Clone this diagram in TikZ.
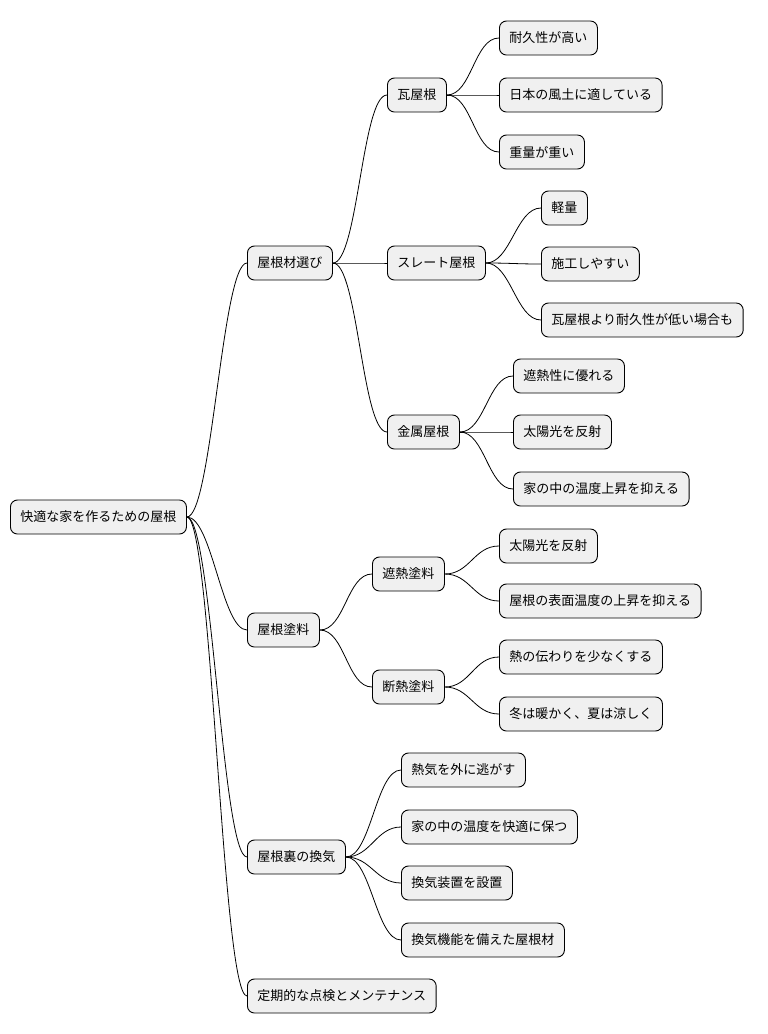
\documentclass[tikz,border=0pt]{standalone}
\usepackage{fontspec}
\setmainfont{Noto Sans CJK JP}
\usetikzlibrary{positioning}
\begin{document}
\begin{tikzpicture}[
    x=1pt, y=-1pt,
    font=\fontsize{13}{15}\selectfont
]
\tikzset{
    mmnode/.style = {draw=black, rounded corners=7pt, fill=black!6, line width=0.9pt,
                     minimum height=34pt, inner xsep=10pt, anchor=west},
    mmedge/.style = {line width=0.8pt}
}
\useasboundingbox (0,0) rectangle (768,1034);
% root and first level
\node[mmnode] at (10,517) (root) {快適な家を作るための屋根};
\node[mmnode] at (247,263) (zai) {屋根材選び};
\node[mmnode] at (247,630) (toryo) {屋根塗料};
\node[mmnode] at (247,857) (kanki) {屋根裏の換気};
\node[mmnode] at (247,996) (tenken) {定期的な点検とメンテナンス};
% second level
\node[mmnode] at (387,95) (kawara) {瓦屋根};
\node[mmnode] at (387,263) (slate) {スレート屋根};
\node[mmnode] at (387,432) (kinzoku) {金属屋根};
\node[mmnode] at (372,574) (shanetsu) {遮熱塗料};
\node[mmnode] at (372,687) (dannetsu) {断熱塗料};
% leaves
\node[mmnode] at (499,38) (k1) {耐久性が高い};
\node[mmnode] at (499,95) (k2) {日本の風土に適している};
\node[mmnode] at (499,152) (k3) {重量が重い};
\node[mmnode] at (541,208) (s1) {軽量};
\node[mmnode] at (541,264) (s2) {施工しやすい};
\node[mmnode] at (541,320) (s3) {瓦屋根より耐久性が低い場合も};
\node[mmnode] at (513,376) (m1) {遮熱性に優れる};
\node[mmnode] at (513,432) (m2) {太陽光を反射};
\node[mmnode] at (513,489) (m3) {家の中の温度上昇を抑える};
\node[mmnode] at (499,546) (h1) {太陽光を反射};
\node[mmnode] at (499,601) (h2) {屋根の表面温度の上昇を抑える};
\node[mmnode] at (499,657) (d1) {熱の伝わりを少なくする};
\node[mmnode] at (499,714) (d2) {冬は暖かく、夏は涼しく};
\node[mmnode] at (401,770) (v1) {熱気を外に逃がす};
\node[mmnode] at (401,827) (v2) {家の中の温度を快適に保つ};
\node[mmnode] at (401,883) (v3) {換気装置を設置};
\node[mmnode] at (401,940) (v4) {換気機能を備えた屋根材};
% connectors
\foreach \p/\c in {root/zai, root/toryo, root/kanki, root/tenken,
                   zai/kawara, zai/slate, zai/kinzoku,
                   toryo/shanetsu, toryo/dannetsu,
                   kawara/k1, kawara/k2, kawara/k3,
                   slate/s1, slate/s2, slate/s3,
                   kinzoku/m1, kinzoku/m2, kinzoku/m3,
                   shanetsu/h1, shanetsu/h2,
                   dannetsu/d1, dannetsu/d2,
                   kanki/v1, kanki/v2, kanki/v3, kanki/v4}
    \draw[mmedge] (\p.east) .. controls +(25,0) and +(-25,0) .. (\c.west);
\end{tikzpicture}
\end{document}
